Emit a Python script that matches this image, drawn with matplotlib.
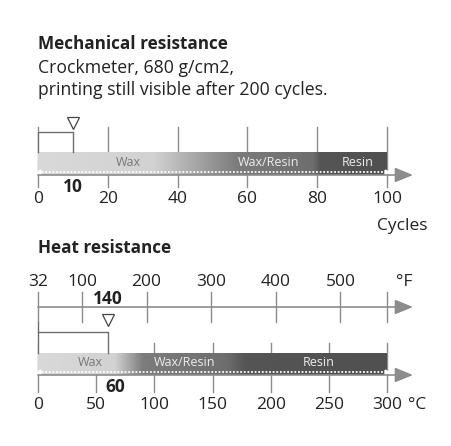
import matplotlib
matplotlib.use("Agg")
import matplotlib.pyplot as plt
import numpy as np
from matplotlib.colors import LinearSegmentedColormap

plt.rcParams['font.family'] = ['Open Sans', 'DejaVu Sans']

# mechanical resistance data
cycle_ticks = [0, 20, 40, 60, 80, 100]
cycle_max = 100
cycle_value = 10
mech_labels = ["Wax", "Wax/Resin", "Resin"]
mech_label_x = [26, 66, 91.5]
mech_stops = [0, 33, 57, 79, 81, 100]
mech_grays = ['#d9d9d9', '#d2d2d2', '#7c7c7c', '#6e6e6e', '#555555', '#505050']

# heat resistance data
c_ticks = [0, 50, 100, 150, 200, 250, 300]
c_max = 300
f_ticks = [32, 100, 200, 300, 400, 500]
f_end = 572
heat_value_c = 60
heat_value_f = 140
heat_labels = ["Wax", "Wax/Resin", "Resin"]
heat_label_x = [45, 126, 241]
heat_stops = [0, 66, 90, 162, 178, 300]
heat_grays = ['#d9d9d9', '#d2d2d2', '#7c7c7c', '#6e6e6e', '#555555', '#505050']

W, H = 451, 446
X0, X1 = 38, 387      # pixel span of the scales
ARROW_END = 413
AX_COL = '#8c8c8c'
BR_COL = '#6e6e6e'
TXT = '#222222'
TICK_FS = 12.5
VAL_FS = 12.5
TITLE_FS = 12.3
SUB_FS = 12.7

fig = plt.figure(figsize=(W / 100, H / 100), dpi=100)


def make_axes(vmin, vmax):
    ax = fig.add_axes([0, 0, 1, 1], facecolor='none')
    k = (X1 - X0) / (vmax - vmin)
    ax.set_xlim(vmin - X0 / k, vmin + (W - X0) / k)
    ax.set_ylim(H, 0)
    ax.axis('off')
    return ax, k


def gradient_bar(ax, stops, grays, vmax, y_top, y_bot):
    cmap = LinearSegmentedColormap.from_list(
        'g', [(s / vmax, c) for s, c in zip(stops, grays)])
    grad = np.linspace(0, 1, 512).reshape(1, -1)
    ax.imshow(grad, cmap=cmap, aspect='auto', extent=(0, vmax, y_bot, y_top),
              zorder=2, interpolation='bilinear')


def axis_arrow(ax, vmin, k, y):
    end = vmin + (ARROW_END - X0) / k
    ax.annotate('', xy=(end, y), xytext=(vmin, y),
                arrowprops=dict(arrowstyle='-|>,head_length=1.1,head_width=0.45',
                                color=AX_COL, lw=1.2, shrinkA=0, shrinkB=0),
                zorder=4)


def dotted(ax, vmax, y):
    ax.plot([0, vmax], [y, y], color='white', lw=1.3, ls=(0, (1, 1)), zorder=3)
    ax.plot([0], [y], marker='<', ms=3.5, color='white', zorder=3)
    ax.plot([vmax], [y], marker='>', ms=3.5, color='white', zorder=3)


# ---------------- Mechanical resistance ----------------
ax1, k1 = make_axes(0, cycle_max)
ax1.text(0, 44, "Mechanical resistance", fontsize=TITLE_FS, fontweight='bold',
         color=TXT, va='center', ha='left')
ax1.text(0, 68, "Crockmeter, 680 g/cm2,", fontsize=SUB_FS, color=TXT,
         va='center', ha='left')
ax1.text(0, 90, "printing still visible after 200 cycles.", fontsize=SUB_FS,
         color=TXT, va='center', ha='left')

for t in cycle_ticks:
    ax1.plot([t, t], [127, 187], color=AX_COL, lw=1.0, zorder=1)
    ax1.text(t, 199, str(t), fontsize=TICK_FS, color=TXT, ha='center', va='center')
ax1.text(cycle_max + 11.5, 226, "Cycles", fontsize=TICK_FS, color=TXT,
         ha='right', va='center')

gradient_bar(ax1, mech_stops, mech_grays, cycle_max, 152, 175)
for lab, x in zip(mech_labels, mech_label_x):
    ax1.text(x, 162, lab, fontsize=9, ha='center', va='center', zorder=5,
             color='#777777' if lab == 'Wax' else '#eeeeee')
dotted(ax1, cycle_max, 171.5)
axis_arrow(ax1, 0, k1, 175)

# bracket + marker
ax1.fill_between([0, cycle_value], 132, 152, color='white', zorder=1.5)
ax1.plot([0, 0, cycle_value, cycle_value], [152, 132, 132, 152],
         color=BR_COL, lw=1.0, zorder=2.5)
ax1.plot([cycle_value], [123], marker='v', ms=9, mfc='white', mec='#444444',
         mew=0.9, zorder=5)
ax1.text(cycle_value, 187, str(cycle_value), fontsize=VAL_FS, fontweight='bold',
         color=TXT, ha='center', va='center', zorder=5)

# ---------------- Heat resistance ----------------
axc, kc = make_axes(0, c_max)
axf, kf = make_axes(32, f_end)

axc.text(0, 248, "Heat resistance", fontsize=TITLE_FS, fontweight='bold',
         color=TXT, va='center', ha='left')

# Fahrenheit scale
for t in f_ticks + [f_end]:
    axf.plot([t, t], [292, 322], color=AX_COL, lw=1.0, zorder=1)
for t in f_ticks:
    axf.text(t, 282, str(t), fontsize=TICK_FS, color=TXT, ha='center', va='center')
axf.text(f_end + 27, 282, "°F", fontsize=TICK_FS, color=TXT, ha='center', va='center')
axis_arrow(axf, 32, kf, 307)
axf.text(heat_value_f, 299, str(heat_value_f), fontsize=VAL_FS, fontweight='bold',
         color=TXT, ha='center', va='center', zorder=5)

# Celsius scale
for t in c_ticks:
    axc.plot([t, t], [343, 392], color=AX_COL, lw=1.0, zorder=1)
    axc.text(t, 405, str(t), fontsize=TICK_FS, color=TXT, ha='center', va='center')
axc.text(c_max + 26, 405, "°C", fontsize=TICK_FS, color=TXT, ha='center', va='center')

gradient_bar(axc, heat_stops, heat_grays, c_max, 353, 375)
for lab, x in zip(heat_labels, heat_label_x):
    axc.text(x, 363, lab, fontsize=9, ha='center', va='center', zorder=5,
             color='#777777' if lab == 'Wax' else '#eeeeee')
dotted(axc, c_max, 372)
axis_arrow(axc, 0, kc, 375)

# bracket + marker
axc.fill_between([0, heat_value_c], 332, 353, color='white', zorder=1.5)
axc.plot([0, 0, heat_value_c, heat_value_c], [322, 332, 332, 353],
         color=BR_COL, lw=1.0, zorder=2.5)
axc.plot([0, 0], [332, 353], color=BR_COL, lw=1.0, zorder=2.5)
axc.plot([heat_value_c], [320], marker='v', ms=9, mfc='white', mec='#444444',
         mew=0.9, zorder=5)
axc.text(heat_value_c + 6, 387, str(heat_value_c), fontsize=VAL_FS, fontweight='bold',
         color=TXT, ha='center', va='center', zorder=5)

fig.savefig("out.png", dpi=100)
